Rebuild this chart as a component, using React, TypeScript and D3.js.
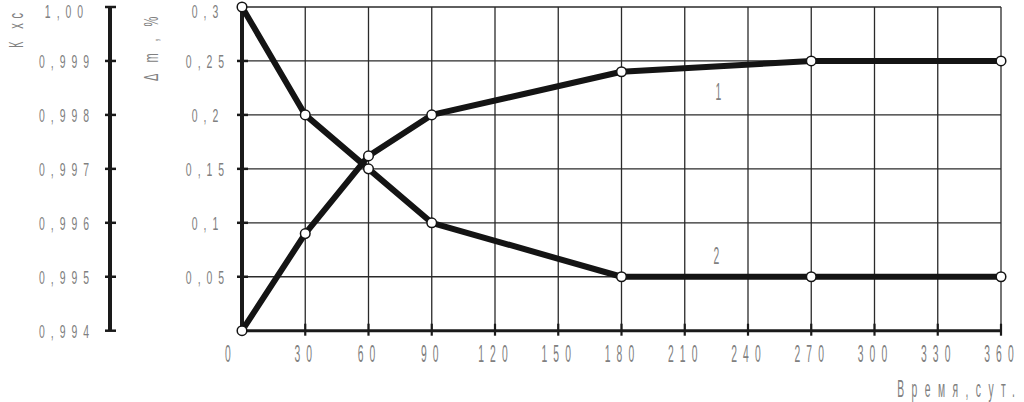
import React from "react";
import * as d3 from "d3";

const days = [0, 30, 60, 90, 180, 270, 360];
const series1 = [0, 0.09, 0.162, 0.2, 0.24, 0.25, 0.25];
const series2 = [0.3, 0.2, 0.15, 0.1, 0.05, 0.05, 0.05];
const xTicks = [0, 30, 60, 90, 120, 150, 180, 210, 240, 270, 300, 330, 360];
const dmTicks = [0, 0.05, 0.1, 0.15, 0.2, 0.25, 0.3];
const dmLabels = ["", "0,05", "0,1", "0,15", "0,2", "0,25", "0,3"];
const kTicks = [0.994, 0.995, 0.996, 0.997, 0.998, 0.999, 1.0];
const kLabels = ["0,994", "0,995", "0,996", "0,997", "0,998", "0,999", "1,00"];
const seriesNames = ["1", "2"];
const xTitle = "Время,сут.";
const dmTitle = "Δ m , %";
const kTitle = "К хс";

const W = 1024;
const H = 402;
const L = 242, R = 1001, T = 7, B = 330.7;

const FONT = "'Liberation Sans', Arial, sans-serif";
const TXT = "#808080";

function Label({ x, y, text, anchor = "middle", rotate = 0, size = 19, sx = 0.55, pitch = 11.8 }: any) {
  // condensed, widely spaced text; pitch = visual advance per digit (px)
  const adv = size * 0.556 * sx;
  const ls = (pitch - adv) / sx;
  const adj = anchor === "middle" ? (ls * sx) / 2 : anchor === "end" ? ls * sx : 0;
  return (
    <g transform={`translate(${x},${y}) rotate(${rotate}) translate(${adj},0) scale(${sx},1)`}>
      <text textAnchor={anchor} fontFamily={FONT} fontSize={size} letterSpacing={ls} fill={TXT}>
        {text}
      </text>
    </g>
  );
}

export default function App() {
  const x = d3.scaleLinear().domain([0, 360]).range([L, R]);
  const y = d3.scaleLinear().domain([0, 0.3]).range([B, T]);
  const yK = d3.scaleLinear().domain([0.994, 1.0]).range([B, T]);
  const line = d3
    .line<number>()
    .x((_, i) => x(days[i]))
    .y((d) => y(d));
  const data = [series1, series2];
  const labelPos = [
    { d: 226, v: 0.214 },
    { d: 225, v: 0.062 },
  ];
  return (
    <svg width={W} height={H} style={{ position: "absolute", left: 0, top: 0, background: "#fff" }}>
      {/* grid */}
      {xTicks.map((t) => (
        <line key={"gx" + t} x1={x(t)} x2={x(t)} y1={y(0.3)} y2={y(0)} stroke="#2a2a2a" strokeWidth={1.3} />
      ))}
      {dmTicks.map((t) => (
        <line key={"gy" + t} x1={x(0)} x2={x(360)} y1={y(t)} y2={y(t)} stroke="#2a2a2a" strokeWidth={1.3} />
      ))}
      {/* x axis */}
      <line x1={x(0)} x2={x(360)} y1={y(0)} y2={y(0)} stroke="#1a1a1a" strokeWidth={3} />
      {xTicks.map((t, i) => (
        <g key={"xt" + t}>
          <line x1={x(t)} x2={x(t)} y1={y(0) - 7} y2={y(0) + 5} stroke="#1a1a1a" strokeWidth={2.2} />
          <Label x={x(t) + (i === 0 ? -14 : -2)} y={y(0) + 31} text={String(t)} size={23} sx={0.45} />
        </g>
      ))}
      <Label x={1015} y={397} text={xTitle} anchor="end" size={23} sx={0.45} pitch={13.2} />
      {/* Δm axis */}
      <line x1={x(0)} x2={x(0)} y1={y(0.3)} y2={y(0)} stroke="#1a1a1a" strokeWidth={4} />
      {dmTicks.map((t, i) => (
        <g key={"yt" + t}>
          {i > 0 && i < dmTicks.length - 1 && (
            <line x1={x(0) - 5} x2={x(0) + 6} y1={y(t)} y2={y(t)} stroke="#1a1a1a" strokeWidth={2.5} />
          )}
          <Label x={205} y={Math.max(y(t), 11) + 7} text={dmLabels[i]} />
        </g>
      ))}
      <Label x={158} y={81} text={dmTitle} anchor="start" rotate={-90} size={20} pitch={10.5} />
      {/* K axis */}
      <line x1={110} x2={110} y1={yK(1.0)} y2={yK(0.994)} stroke="#1a1a1a" strokeWidth={4} />
      {kTicks.map((t, i) => (
        <g key={"kt" + t}>
          <line x1={105} x2={116} y1={yK(t)} y2={yK(t)} stroke="#1a1a1a" strokeWidth={2.5} />
          <Label x={64} y={Math.max(yK(t), 11) + 7} text={kLabels[i]} />
        </g>
      ))}
      <Label x={23} y={48} text={kTitle} anchor="start" rotate={-90} size={20} pitch={11} />
      {/* series */}
      {data.map((s, k) => (
        <path key={"s" + k} d={line(s) || ""} fill="none" stroke="#141414" strokeWidth={6} strokeLinejoin="round" />
      ))}
      {data.map((s, k) =>
        s.map((v, i) => (
          <circle key={"c" + k + "-" + i} cx={x(days[i])} cy={y(v)} r={4.8} fill="#fff" stroke="#141414" strokeWidth={1.5} />
        ))
      )}
      {seriesNames.map((n, k) => (
        <Label key={"n" + n} x={x(labelPos[k].d)} y={y(labelPos[k].v)} text={n} size={23} sx={0.45} />
      ))}
    </svg>
  );
}
